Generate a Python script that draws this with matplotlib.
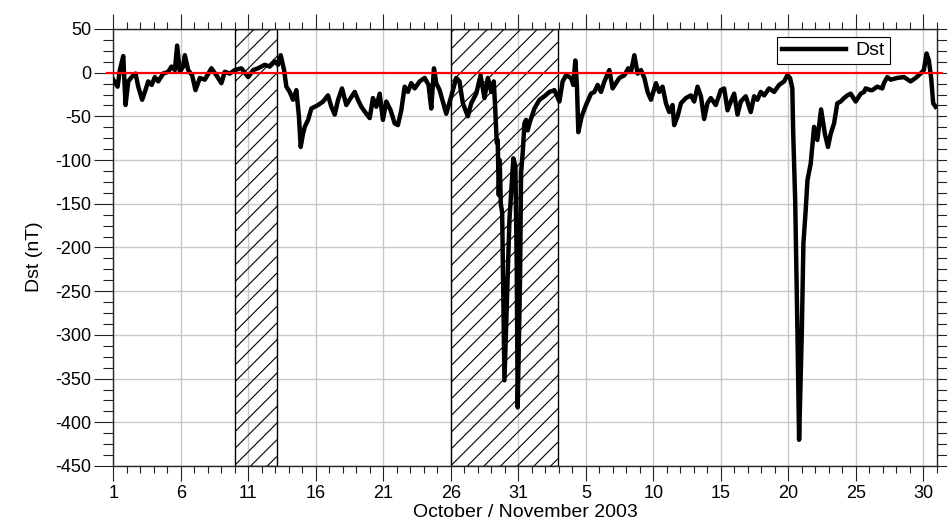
import numpy as np
import matplotlib
matplotlib.use("Agg")
from matplotlib import pyplot as plt
from matplotlib.ticker import MultipleLocator
from matplotlib.patches import Rectangle

plt.rcParams['font.family'] = ['Liberation Sans', 'DejaVu Sans']
plt.rcParams['axes.unicode_minus'] = False
plt.rcParams['hatch.linewidth'] = 0.8

# day counted from 1 October 2003 (Nov 1 = 32), hourly Dst
day = [1.00, 1.07, 1.32, 1.49, 1.74, 1.91, 2.11, 2.36, 2.65, 2.85, 3.14, 3.34, 3.59, 3.84,
       4.08, 4.33, 4.70, 5.07, 5.31, 5.56, 5.73, 5.93, 6.18, 6.30, 6.55, 6.84, 7.09, 7.41,
       7.78, 8.27, 8.64, 9.01, 9.26, 9.63, 10.00, 10.49, 10.99, 11.36, 11.72, 12.22, 12.59,
       12.96, 13.20, 13.40, 13.65, 13.82, 14.07, 14.31, 14.56, 14.75, 14.88, 15.05, 15.18,
       15.43, 15.67, 16.17, 16.54, 16.90, 17.15, 17.40, 17.65, 17.94, 18.26, 18.50, 18.88,
       19.12, 19.37, 19.74, 19.99, 20.23, 20.48, 20.73, 20.97, 21.22, 21.54, 21.84, 22.08,
       22.33, 22.58, 22.82, 23.07, 23.32, 23.69, 24.06, 24.35, 24.55, 24.75, 24.92, 25.17,
       25.41, 25.66, 26.03, 26.40, 26.64, 26.89, 27.26, 27.51, 27.88, 28.20, 28.49, 28.74,
       28.99, 29.18, 29.28, 29.40, 29.47, 29.55, 29.62, 29.70, 29.80, 29.97, 30.34, 30.63,
       30.78, 30.88, 30.95, 31.13, 31.20, 31.33, 31.45, 31.57, 31.69, 31.82, 32.19, 32.56,
       32.93, 33.30, 33.67, 34.04, 34.28, 34.53, 34.90, 35.07, 35.22, 35.34, 35.44, 35.69,
       36.01, 36.38, 36.63, 36.87, 37.12, 37.37, 37.74, 37.98, 38.23, 38.48, 38.85, 39.14,
       39.34, 39.59, 39.83, 40.08, 40.33, 40.57, 40.82, 41.19, 41.43, 41.68, 41.93, 42.17,
       42.42, 42.54, 42.79, 43.04, 43.41, 43.78, 44.02, 44.27, 44.52, 44.76, 45.00, 45.25,
       45.62, 45.99, 46.24, 46.49, 46.73, 46.98, 47.23, 47.47, 47.84, 48.21, 48.46, 48.70,
       48.95, 49.20, 49.57, 49.94, 50.31, 50.68, 50.92, 51.12, 51.29, 51.35, 51.50, 51.67,
       51.79, 51.99, 52.11, 52.28, 52.41, 52.65, 52.90, 53.14, 53.42, 53.70, 53.93, 54.13,
       54.38, 54.62, 54.87, 55.12, 55.36, 55.61, 55.98, 56.35, 56.60, 56.72, 57.09, 57.21,
       57.58, 57.95, 58.07, 58.32, 58.57, 59.06, 59.55, 60.05, 60.42, 60.79, 61.03, 61.23,
       61.40, 61.57, 61.72, 61.90]
dst = [-8, -10, -16, 3, 19, -37, -10, -5, -1, -16, -31, -22, -10, -14,
       -5, -10, -1, 1, 7, 3, 31, 1, 7, 20, 3, -3, -20, -6,
       -8, 5, -3, -12, 1, -1, 3, 5, -5, 3, 5, 9, 7,
       13, 9, 20, 3, -16, -22, -31, -20, -50, -85, -70, -62,
       -54, -41, -37, -33, -26, -39, -48, -31, -18, -37, -31, -22,
       -31, -39, -47, -52, -29, -39, -24, -54, -33, -43, -58, -60,
       -43, -16, -22, -12, -18, -10, -6, -14, -41, 5, -12, -20,
       -33, -47, -27, -6, -10, -35, -50, -35, -24, -3, -29, -6,
       -22, -10, -39, -80, -77, -140, -100, -150, -160, -352, -168, -98,
       -107, -222, -383, -230, -115, -90, -58, -54, -66, -58, -41, -31,
       -27, -22, -20, -33, -10, -3, -6, -14, 14, -16, -68, -50,
       -37, -24, -22, -14, -22, -10, 3, -18, -12, -6, -3, 5,
       1, 20, -1, 3, -6, -22, -31, -12, -22, -16, -35, -45,
       -37, -60, -50, -35, -29, -26, -33, -16, -27, -53, -35, -29,
       -37, -20, -18, -43, -33, -24, -48, -33, -27, -45, -27, -31,
       -22, -26, -18, -22, -14, -10, -3, -6, -18, -67, -146, -298,
       -420, -298, -195, -157, -123, -104, -62, -77, -42, -70, -85, -70,
       -58, -35, -33, -29, -26, -24, -33, -24, -22, -18, -20, -20,
       -16, -18, -12, -5, -8, -6, -5, -10, -6, -1, 3, 22,
       14, -6, -35, -39]

tick_pos = [1, 6, 11, 16, 21, 26, 31, 36, 41, 46, 51, 56, 61]
tick_lab = ['1', '6', '11', '16', '21', '26', '31', '5', '10', '15', '20', '25', '30']
shade = [(10.0, 13.1), (26.0, 33.9)]

fig = plt.figure(figsize=(9.47, 5.25), dpi=100)
ax = fig.add_axes([0.1196, 0.1124, 0.8698, 0.8324])

for a, b in shade:
    ax.add_patch(Rectangle((a, -450), b - a, 500, facecolor='none', edgecolor='black',
                           hatch='//', lw=1.0, zorder=1))

ax.plot(day, dst, color='black', lw=3.2, solid_joinstyle='round', zorder=3, label='Dst')
ax.axhline(0, xmin=-0.0075, xmax=1.006, color='red', lw=1.6, zorder=4, clip_on=False)

ax.set_xlim(1, 62)
ax.set_ylim(-450, 50)
ax.set_xticks(tick_pos)
ax.set_xticklabels(tick_lab)
ax.xaxis.set_minor_locator(MultipleLocator(1))
ax.yaxis.set_major_locator(MultipleLocator(50))
ax.yaxis.set_minor_locator(MultipleLocator(12.5))
ax.grid(True, which='major', color='#c8c8c8', lw=1.0, zorder=0)
ax.set_axisbelow(True)

ax.tick_params(axis='both', which='both', direction='out', top=True, right=True,
               width=0.8, color='#222222', labelsize=13)
ax.tick_params(axis='x', which='major', length=11, pad=3)
ax.tick_params(axis='x', which='minor', length=5)
ax.tick_params(axis='y', which='major', length=14, pad=2)
ax.tick_params(axis='y', which='minor', length=7)
for s in ax.spines.values():
    s.set_linewidth(1.0)
    s.set_color('#222222')

ax.set_ylabel('Dst (nT)', fontsize=14)
ax.yaxis.set_label_coords(-0.085, 0.48)
ax.set_xlabel('October / November 2003', fontsize=14)
ax.xaxis.set_label_coords(0.5, -0.088)

leg = ax.legend(loc='upper right', bbox_to_anchor=(0.943, 0.982), fontsize=14,
                frameon=True, fancybox=False, edgecolor='black', framealpha=1,
                handlelength=3.3, borderpad=0.25, handletextpad=0.5, borderaxespad=0)
leg.get_frame().set_linewidth(0.8)

fig.savefig('out.png', dpi=100)
